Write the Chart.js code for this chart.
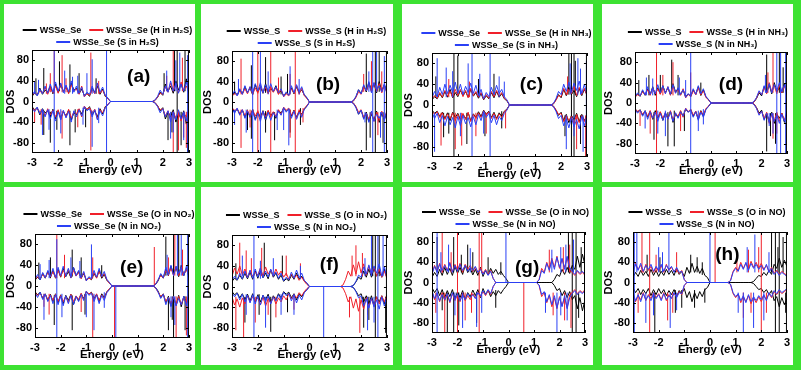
<!DOCTYPE html>
<html>
<head>
<meta charset="utf-8">
<script src="https://cdn.jsdelivr.net/npm/chart.js@4.4.0/dist/chart.umd.min.js"></script>
<style>
  html, body { margin: 0; padding: 0; background: #fff; }
  #wrap { position: relative; width: 801px; height: 370px; background: #3de232; overflow: hidden; }
  .panel { position: absolute; background: #fff; }
  .panel canvas { position: absolute; left: 0; top: 0; }
</style>
</head>
<body>
<div id="wrap"></div>
<script>
// energy grid (eV) shared by every band curve
const energy = [-3.0,-2.9,-2.8,-2.7,-2.6,-2.5,-2.4,-2.3,-2.2,-2.1,-2.0,-1.9,-1.8,-1.7,-1.6,-1.5,-1.4,-1.3,-1.2,-1.1,
  -1.0,-0.9,-0.8,-0.7,-0.6,-0.5,-0.4,-0.3,-0.2,-0.1,0,0.1,0.2,0.3,0.4,0.5,0.6,0.7,0.8,0.9,
  1.0,1.1,1.2,1.3,1.4,1.5,1.6,1.7,1.8,1.9,2.0,2.1,2.2,2.3,2.4,2.5,2.6,2.7,2.8,2.9,3.0];
const xTicks = [-3, -2, -1, 0, 1, 2, 3];
const yTicks = [-80, -40, 0, 40, 80];

// band DOS (spin up, spin down is its mirror), one value per energy point
// K = pristine, R = first adsorbate atom, B = second adsorbate atom
const aK = [10,16,12,26,14,22,18,30,15,34, 18,32,20,28,17,36,22,26,15,24, 12,16,10,26,18,30,14,24,10,6, 0,0,0,0,0,0,0,0,0,0, 0,0,0,0,0,0,0,2,8,18, 12,34,20,30,16,40,22,34,18,44, 20];
const aR = [11,18,13,20,16,28,14,26,17,30, 16,34,19,30,15,32,20,24,14,30, 9,15,12,22,15,34,16,22,12,5, 0,0,0,0,0,0,0,0,0,0, 0,0,0,0,0,0,0,2,9,16, 14,28,18,36,20,32,17,38,22,30, 18];
const aB = [12,20,11,24,15,30,16,34,18,38, 20,36,17,32,19,40,18,30,16,28, 10,18,14,30,16,36,18,28,12,7, 0,0,0,0,0,0,0,0,0,0, 0,0,0,0,0,0,0,3,10,22, 14,30,18,40,20,36,16,34,20,38, 15];
const bK = [12,20,14,24,16,30,18,28,14,34, 20,30,17,36,18,26,20,32,16,22, 12,18,14,28,16,30,18,24,14,8, 0,0,0,0,0,0,0,0,0,0, 0,0,0,0,0,0,0,2,10,24, 16,32,20,38,24,36,18,40,22,34, 20];
const bR = [11,17,13,22,15,26,16,30,15,28, 17,33,18,29,16,30,19,28,15,25, 10,16,12,26,17,32,15,27,12,7, 0,0,0,0,0,0,0,0,0,0, 0,0,0,0,0,0,0,2,9,20, 15,30,22,34,20,38,20,36,18,32, 18];
const bB = [13,22,12,26,15,32,18,30,17,36, 22,38,18,34,20,36,21,30,18,26, 11,20,13,32,18,34,20,30,14,9, 0,0,0,0,0,0,0,0,0,0, 0,0,0,0,0,0,0,3,11,24, 16,34,22,40,18,38,24,32,20,36, 16];
const cK = [10,16,12,22,14,26,15,30,14,24, 16,28,18,26,15,30,17,24,13,22, 10,18,12,24,14,26,15,22,12,8, 0,0,0,0,0,0,0,0,0,0, 0,0,0,0,0,0,0,2,10,20, 14,30,18,34,20,28,16,32,18,30, 20];
const cR = [12,18,13,24,15,28,17,26,15,30, 18,30,16,28,14,32,18,26,15,24, 11,20,13,26,16,28,17,24,13,9, 0,0,0,0,0,0,0,0,0,0, 0,0,0,0,0,0,0,2,9,18, 16,32,20,30,22,36,18,34,20,32, 18];
const cB = [14,26,16,34,20,40,22,38,24,44, 22,40,20,36,24,42,22,38,18,30, 12,24,16,34,20,38,22,30,16,10, 0,0,0,0,0,0,0,0,0,0, 0,0,0,0,0,0,0,3,12,26, 20,40,26,44,24,42,28,46,22,40, 20];
const dK = [11,18,13,24,15,28,16,32,15,30, 18,34,20,30,16,38,22,28,16,26, 12,18,13,26,17,32,15,26,12,7, 0,0,0,0,0,0,0,0,0,0, 0,0,0,0,0,0,0,2,9,20, 14,32,20,36,18,40,22,30,20,38, 18];
const dR = [12,16,14,22,16,26,15,30,18,28, 17,30,19,32,15,34,20,26,15,28, 10,17,12,24,16,30,16,24,11,6, 0,0,0,0,0,0,0,0,0,0, 0,0,0,0,0,0,0,2,10,22, 16,30,18,40,22,34,18,36,20,34, 16];
const dB = [12,20,14,26,16,32,17,30,18,36, 20,34,18,32,17,36,19,30,17,26, 11,18,14,28,17,34,18,28,13,7, 0,0,0,0,0,0,0,0,0,0, 0,0,0,0,0,0,0,3,11,24, 16,34,20,38,20,36,24,40,22,36, 18];
const eK = [11,17,12,24,15,28,16,30,15,32, 17,34,18,28,16,36,20,28,15,24, 11,16,12,24,16,30,15,22,11,6, 0,0,0,0,0,0,0,0,0,0, 0,0,0,0,0,0,0,3,10,22, 15,32,20,38,22,36,18,40,20,34, 18];
const eR = [12,18,14,22,16,26,17,28,16,30, 18,30,20,32,16,30,19,26,14,26, 10,15,13,26,15,28,17,24,12,5, 0,0,0,0,0,0,0,0,0,0, 0,0,0,0,0,0,0,4,12,20, 16,30,22,34,20,38,20,36,22,32, 18];
const eB = [13,22,12,26,16,30,18,34,17,36, 20,38,19,34,18,36,20,30,16,28, 10,18,14,30,17,34,18,28,13,7, 0,0,0,0,0,0,0,0,0,0, 0,0,0,0,0,0,0,3,12,24, 16,36,22,40,20,38,24,36,20,38, 16];
const fK = [10,16,12,22,14,26,15,28,14,30, 16,30,17,26,15,32,18,26,14,22, 10,15,11,22,14,26,14,20,11,6, 0,0,0,0,0,0,0,0,0,0, 0,0,0,0,0,0,0,2,9,18, 14,30,18,34,18,36,20,30,18,34, 16];
const fR = [20,36,24,40,22,34,18,30,20,28, 22,36,20,38,24,32,20,34,22,30, 18,26,14,24,16,22,12,18,10,4, 0,0,0,0,0,0,0,0,0,0, 0,0,0,3,14,30,20,42,24,48, 26,44,22,40,24,38,20,34,18,30, 16];
const fB = [12,20,13,26,15,30,17,32,16,34, 18,36,17,30,18,34,20,28,16,26, 11,18,13,28,16,32,17,26,12,7, 0,0,0,0,0,0,0,0,0,0, 0,0,0,0,0,0,0,2,10,22, 18,38,24,42,22,40,26,44,20,38, 18];
const gK = [10,20,12,26,14,30,16,28,14,32, 18,30,16,34,20,28,15,26,14,30, 12,24,15,28,18,26,16,22,14,8, 0,0,0,0,0,0,0,0,0,0, 0,0,0,0,0,0,0,0,6,16, 12,26,16,30,18,34,26,52,30,56, 34];
const gR = [18,34,22,38,20,36,24,40,22,36, 24,38,20,36,26,34,22,30,20,28, 18,26,16,24,8,0,0,0,0,0, 0,0,0,0,0,0,0,0,0,0, 0,0,6,28,20,40,26,48,30,52, 28,46,30,50,24,20,14,22,16,20, 14];
const gB = [16,32,20,36,24,34,22,38,20,34, 22,36,24,34,22,30,24,32,20,26, 16,24,14,22,8,0,0,0,0,0, 0,0,0,0,0,0,0,0,0,0, 0,0,5,24,18,38,24,44,26,50, 30,48,26,52,30,22,16,24,18,22, 16];
const hK = [10,20,12,24,14,22,12,26,14,24, 12,22,14,26,16,24,14,28,16,22, 12,30,18,38,20,32,18,28,14,10, 0,0,0,0,0,0,0,0,0,0, 0,0,0,0,0,0,0,2,8,14, 12,20,14,24,16,36,28,48,30,44, 32];
const hR = [22,38,26,34,20,36,24,32,20,30, 22,34,20,36,24,30,22,28,18,24, 6,0,0,0,0,0,0,0,0,0, 0,0,0,0,0,0,0,0,4,22, 30,24,40,28,38,26,42,30,40,28, 38,26,34,22,30,18,24,16,22,18, 14];
const hB = [20,36,24,38,22,34,26,36,22,32, 24,36,22,34,26,32,20,30,20,22, 5,0,0,0,0,0,0,0,0,0, 0,0,0,0,0,0,0,0,3,20, 28,22,36,26,40,24,38,28,36,26, 34,24,36,20,28,16,22,14,20,16, 12];

// sharp peaks: [energy, from DOS, to DOS]
const aKs = [[-2.85,15,45],[-2.55,-65,-20],[-2.55,20,65],[-2.3,-80,-20],[-2.05,-55,-18],[-1.95,20,78],[-1.55,-85,-18],[-1.55,18,72],[-1.35,-60,-15],[-1.2,18,55],[-0.95,-50,-15],[-0.55,15,45],
  [2.05,20,55],[2.2,-75,-20],[2.35,-60,-20],[2.45,20,100],[2.55,-100,100],[2.7,-85,-20],[2.85,20,100],[2.95,-100,-20]];
const aRs = [[-2.9,-40,-15],[-2.65,-45,-15],[-2.45,15,35],[-2.3,18,55],[-2.15,15,100],[-1.85,18,90],[-1.85,-72,-18],[-1.7,18,45],[-1.25,-50,-15],[-0.75,-95,-15],[-0.75,15,95],[-0.45,15,40],
  [2.15,20,50],[2.4,-100,-20],[2.4,20,100],[2.6,-95,-20],[2.75,20,85],[2.8,-70,-20],[2.9,-90,-20]];
const aBs = [[-2.9,15,38],[-2.75,14,42],[-2.6,-65,-14],[-2.35,-55,-15],[-2.15,-100,100],[-1.9,-62,-15],[-1.75,15,60],[-1.45,15,48],[-1.25,15,50],[-1.05,-45,-12],[-0.9,15,55],[-0.7,15,82],[-0.7,-88,-18],[-0.45,-42,-12],[-0.15,-100,100],
  [2.15,20,60],[2.3,-72,-20],[2.4,-60,-20],[2.5,20,80],[2.65,20,95],[2.8,-75,-20],[2.95,-100,90]];
const bKs = [[-2.9,15,40],[-2.4,-55,-15],[-2.25,20,72],[-2.25,-72,-20],[-1.7,18,88],[-1.7,-60,-18],[-1.35,-75,-20],[-1.1,15,50],[-0.85,15,55],[-0.75,-60,-15],[-0.35,-45,-12],
  [2.2,20,95],[2.2,-95,-20],[2.35,-70,-20],[2.55,-100,100],[2.7,20,100],[2.85,-80,-20]];
const bRs = [[-2.65,15,85],[-2.65,-90,-15],[-2.3,-50,-15],[-2.0,-100,100],[-1.5,-100,100],[-1.2,15,48],[-0.75,-70,-15],[-0.75,15,55],[-0.55,-100,100],[-0.25,-40,-12],
  [2.1,20,55],[2.4,20,80],[2.65,-65,-20],[2.8,20,60]];
const bBs = [[-2.9,-45,-15],[-2.75,15,45],[-2.45,-60,-15],[-2.2,-100,100],[-1.9,-100,100],[-1.6,15,60],[-1.25,-55,-15],[-1.0,-55,-15],[-0.8,-85,-15],[-0.75,15,70],[-0.4,15,45],
  [2.15,-40,-20],[2.3,20,60],[2.45,-100,100],[2.6,20,100],[2.75,-70,-20],[2.9,-100,90]];
const cKs = [[-2.85,15,55],[-2.55,-62,-15],[-2.35,-55,-15],[-2.15,-100,100],[-2.0,20,95],[-1.65,-75,-15],[-1.2,15,50],[-0.95,-60,-15],[-0.6,15,60],[-0.3,-45,-12],
  [2.15,-60,-20],[2.3,20,100],[2.4,-100,100],[2.5,-100,100],[2.55,20,85],[2.75,-75,-20]];
const cRs = [[-2.65,-78,-15],[-2.35,15,50],[-2.1,-85,-15],[-1.85,-78,-15],[-1.55,15,45],[-1.3,-60,-15],[-0.9,-55,-15],[-0.15,-45,-10],
  [2.25,20,55],[2.6,-85,-20],[2.95,-100,-20]];
const cBs = [[-2.9,-90,-15],[-2.8,15,90],[-2.45,15,72],[-2.2,15,65],[-1.9,-60,-15],[-1.6,20,80],[-1.45,-100,100],[-1.15,15,60],[-1.0,-55,-15],[-0.75,-100,100],[-0.4,15,55],[-0.2,15,45],
  [2.2,-85,-20],[2.35,20,80],[2.5,-60,-20],[2.65,20,90],[2.75,20,70],[2.85,-90,-20],[2.98,-85,85]];
const dKs = [[-2.85,15,45],[-2.45,15,55],[-2.25,-72,-18],[-2.0,20,55],[-1.7,-85,-18],[-1.55,18,85],[-1.45,-85,-15],[-1.3,15,55],[-1.05,-55,-15],[-0.4,15,40],
  [2.2,20,95],[2.2,-95,-20],[2.35,-65,-20],[2.55,-80,-20],[2.7,20,100],[2.85,20,70]];
const dRs = [[-2.8,-45,-15],[-2.4,-60,-15],[-2.15,-100,100],[-1.9,15,55],[-1.5,15,80],[-1.2,-55,-15],[-0.8,15,60],
  [2.25,20,60],[2.45,20,100],[2.45,-70,-20],[2.6,-60,-20]];
const dBs = [[-2.6,-50,-15],[-2.55,15,50],[-2.3,15,48],[-2.1,-60,-15],[-1.8,-65,-15],[-1.25,15,50],[-1.0,15,45],[-0.8,-100,100],[-0.5,-55,-15],[-0.3,-42,-12],
  [2.15,20,55],[2.3,-45,-20],[2.45,-60,-20],[2.6,-100,100],[2.75,-100,100],[2.95,-100,100]];
const eKs = [[-2.85,15,45],[-2.4,15,55],[-2.25,-75,-18],[-1.55,-85,-18],[-1.55,18,70],[-1.2,15,55],[-1.05,-55,-15],[-0.4,15,40],
  [2.1,20,95],[2.2,-85,-20],[2.35,-65,-20],[2.4,-100,100],[2.6,20,100],[2.85,-85,-20]];
const eRs = [[-2.65,-40,-15],[-2.45,-55,-15],[-2.15,15,100],[-1.85,15,60],[-1.2,-50,-15],[-0.75,15,55],[-0.75,-100,-15],[0.1,-100,0],
  [1.65,0,75],[2.2,20,55],[2.45,20,100],[2.5,-100,-20],[2.75,20,70],[2.9,-95,-20]];
const eBs = [[-2.8,15,42],[-2.65,-65,-15],[-2.45,15,50],[-2.15,-100,90],[-1.95,-60,-15],[-1.6,15,55],[-1.25,15,48],[-1.0,-60,-15],[-0.8,15,80],[-0.7,-85,-15],[-0.3,-42,-12],[0.15,-100,0],
  [2.15,20,60],[2.3,-60,-20],[2.45,-75,-20],[2.55,20,100],[2.7,20,100],[2.95,-100,100]];
const fKs = [[-2.85,15,45],[-2.5,-70,-20],[-1.95,-55,-15],[-1.75,20,85],[-1.5,-88,-20],[-1.05,20,60],[-0.85,-50,-15],
  [2.1,-80,-20],[2.3,-65,-20],[2.45,20,100],[2.55,-100,100],[2.7,20,100],[2.95,-90,-20]];
const fRs = [[-2.85,-85,-20],[-2.7,20,85],[-2.55,-100,-20],[-2.45,20,70],[-2.25,20,55],[-2.1,-70,-20],[-1.85,20,75],[-1.6,-55,-20],[-1.3,-60,-20],[-0.9,20,60],[-0.6,-45,-15],[-0.35,15,45],
  [1.55,-60,-20],[1.65,20,60],[1.8,20,80],[1.95,-90,-20],[2.05,20,65],[2.25,-55,-20]];
const fBs = [[-2.6,20,60],[-2.45,-55,-15],[-2.15,-100,100],[-1.9,15,50],[-1.7,-80,-20],[-1.4,20,55],[-1.1,-55,-15],[-0.6,-55,-15],[-0.35,15,40],[0.55,-100,0],
  [2.15,20,55],[2.25,-85,-20],[2.4,20,100],[2.5,-70,-20],[2.65,-100,100],[2.85,20,100]];
const gKs = [[-2.8,20,90],[-2.6,-55,-20],[-2.4,-100,-20],[-2.15,-100,-20],[-2.15,20,90],[-1.95,-85,-20],[-1.85,20,55],[-1.6,20,75],[-1.4,20,60],[-1.25,-80,-20],[-0.8,20,50],[-0.5,-50,-15],[-0.3,15,40],
  [2.35,20,100],[2.5,-100,100],[2.65,-100,100],[2.75,-70,-20],[2.85,20,70]];
const gRs = [[-2.85,-60,-20],[-2.6,20,100],[-2.5,-100,-20],[-2.25,20,60],[-2.0,-100,100],[-1.7,-75,-20],[-1.45,-60,-20],[-1.15,-100,100],[-1.05,20,100],[0.6,-100,0],
  [1.6,20,65],[1.75,-65,-20],[2.15,20,70],[2.2,-75,-20],[2.4,20,75],[2.45,-90,-20]];
const gBs = [[-2.8,-100,100],[-2.65,20,60],[-2.35,20,75],[-2.1,-65,-20],[-1.8,-90,-20],[-1.5,20,68],[-1.25,-88,-20],[-1.05,-60,-20],[-0.1,0,100],
  [1.45,-60,-20],[1.7,20,65],[1.9,-100,-20],[2.05,20,70],[2.05,-65,-20],[2.25,20,75],[2.3,-75,-20],[2.55,20,85]];
const hKs = [[-2.45,20,55],[-2.15,-100,-20],[-1.95,20,50],[-1.35,-60,-15],[-1.1,-50,-15],[-0.75,20,55],[-0.6,-50,-15],[-0.5,20,50],[-0.3,15,40],[-0.2,-40,-12],
  [2.4,20,100],[2.55,-100,100],[2.65,20,70],[2.7,-100,100],[2.85,20,90],[2.95,-60,-20]];
const hRs = [[-2.8,-60,-20],[-2.65,20,100],[-2.35,-100,100],[-2.1,20,55],[-1.65,-75,-20],[-1.45,-60,-20],[-1.3,20,60],[0.2,0,100],
  [1.05,20,55],[1.3,-70,-20],[1.5,20,65],[1.6,-60,-20],[1.9,20,70],[2.0,-100,100],[2.2,-60,-20]];
const hBs = [[-2.95,-100,100],[-2.85,20,100],[-2.5,-80,-20],[-2.2,-65,-20],[-2.0,20,70],[-1.85,20,60],[-1.6,20,100],[-1.55,-90,-20],[-1.3,-55,-20],[0.0,0,100],
  [1.1,-60,-20],[1.3,-100,-20],[1.45,20,70],[1.7,-90,-20],[1.75,20,95],[2.1,-75,-20],[2.3,20,60]];

// legend names
const namesA = ['WSSe_Se', 'WSSe_Se (H in H\u2082S)', 'WSSe_Se (S in H\u2082S)'];
const namesB = ['WSSe_S', 'WSSe_S (H in H\u2082S)', 'WSSe_S (S in H\u2082S)'];
const namesC = ['WSSe_Se', 'WSSe_Se (H in NH\u2083)', 'WSSe_Se (S in NH\u2083)'];
const namesD = ['WSSe_S', 'WSSe_S (H in NH\u2083)', 'WSSe_S (N in NH\u2083)'];
const namesE = ['WSSe_Se', 'WSSe_Se (O in NO\u2082)', 'WSSe_Se (N in NO\u2082)'];
const namesF = ['WSSe_S', 'WSSe_S (O in NO\u2082)', 'WSSe_S (N in NO\u2082)'];
const namesG = ['WSSe_Se', 'WSSe_Se (O in NO)', 'WSSe_Se (N in NO)'];
const namesH = ['WSSe_S', 'WSSe_S (O in NO)', 'WSSe_S (N in NO)'];

const panels = [
  { tag: '(a)', names: namesA, bands: [aK, aR, aB], spikes: [aKs, aRs, aBs] },
  { tag: '(b)', names: namesB, bands: [bK, bR, bB], spikes: [bKs, bRs, bBs] },
  { tag: '(c)', names: namesC, bands: [cK, cR, cB], spikes: [cKs, cRs, cBs] },
  { tag: '(d)', names: namesD, bands: [dK, dR, dB], spikes: [dKs, dRs, dBs] },
  { tag: '(e)', names: namesE, bands: [eK, eR, eB], spikes: [eKs, eRs, eBs] },
  { tag: '(f)', names: namesF, bands: [fK, fR, fB], spikes: [fKs, fRs, fBs] },
  { tag: '(g)', names: namesG, bands: [gK, gR, gB], spikes: [gKs, gRs, gBs] },
  { tag: '(h)', names: namesH, bands: [hK, hR, hB], spikes: [hKs, hRs, hBs] }
];

// layout: panel rect in page [left, top, w, h], plot rect in panel [l, t, r, b], tag position in data units
const panelBox = [[4,4,191,178],[201,4,192,178],[402,4,191,178],[602,4,191,178],
                  [4,187,191,178],[201,187,192,178],[402,187,191,178],[602,187,191,178]];
const plotBox = [[28,46,187,149],[31,47,189,149],[30,49,186,153],[33,48,188,150],
                 [31,47,187,151],[31,48,187,151],[30,45,183,146],[31,45,186,146]];
const tagAt = [[1.08,48],[0.72,33],[0.85,38],[0.79,35],[0.77,36],[0.77,42],[0.73,30],[0.68,54]];

const colors = ['#000000', '#f0202a', '#2a40f5'];
const FONT = 'Arial, "Liberation Sans", sans-serif';

function bandPoints(vals, sign) {
  return energy.map((x, i) => ({ x: x, y: sign * vals[i] }));
}

function spikePoints(list) {
  const pts = [];
  list.forEach(([x, lo, hi]) => {
    pts.push({ x: x, y: lo }, { x: x, y: hi }, { x: x, y: null });
  });
  return pts;
}

// box, inward ticks, panel letter and legend
const decor = {
  id: 'decor',
  afterDatasetsDraw(chart, args, opts) {
    const { ctx, chartArea: a, scales } = chart;
    ctx.save();
    ctx.strokeStyle = '#000';
    ctx.lineWidth = 1;
    ctx.strokeRect(a.left + 0.5, a.top + 0.5, a.right - a.left - 1, a.bottom - a.top - 1);
    ctx.beginPath();
    xTicks.forEach(v => {
      const px = Math.round(scales.x.getPixelForValue(v)) + 0.5;
      ctx.moveTo(px, a.bottom); ctx.lineTo(px, a.bottom - 3);
      ctx.moveTo(px, a.top); ctx.lineTo(px, a.top + 3);
    });
    yTicks.forEach(v => {
      const py = Math.round(scales.y.getPixelForValue(v)) + 0.5;
      ctx.moveTo(a.left, py); ctx.lineTo(a.left + 3, py);
      ctx.moveTo(a.right, py); ctx.lineTo(a.right - 3, py);
    });
    ctx.stroke();

    ctx.fillStyle = '#000';
    ctx.font = 'bold 19px ' + FONT;
    ctx.textAlign = 'center';
    ctx.textBaseline = 'middle';
    ctx.fillText(opts.tag, scales.x.getPixelForValue(opts.tagAt[0]), scales.y.getPixelForValue(opts.tagAt[1]));

    // legend: two entries on the first row, one on the second
    ctx.font = 'bold 9px ' + FONT;
    ctx.textAlign = 'left';
    const cx = (a.left + a.right) / 2 - 3;
    const rows = [[0, 1], [2]];
    rows.forEach((row, r) => {
      const y = a.top - (r === 0 ? 20 : 8);
      const widths = row.map(i => 14 + 3 + ctx.measureText(opts.names[i]).width);
      let x = cx - (widths.reduce((s, w) => s + w, 0) + 8 * (row.length - 1)) / 2;
      row.forEach((i, k) => {
        ctx.strokeStyle = opts.legendColors[i];
        ctx.lineWidth = 2;
        ctx.beginPath();
        ctx.moveTo(x, y); ctx.lineTo(x + 14, y);
        ctx.stroke();
        ctx.fillText(opts.names[i], x + 17, y + 0.5);
        x += widths[k] + 8;
      });
    });
    ctx.restore();
  }
};

const wrap = document.getElementById('wrap');

panels.forEach((p, n) => {
  const [px, py, pw, ph] = panelBox[n];
  const [l, t, r, b] = plotBox[n];
  const div = document.createElement('div');
  div.className = 'panel';
  div.style.left = px + 'px';
  div.style.top = py + 'px';
  div.style.width = pw + 'px';
  div.style.height = ph + 'px';
  const canvas = document.createElement('canvas');
  canvas.width = pw;
  canvas.height = ph;
  div.appendChild(canvas);
  wrap.appendChild(div);

  const datasets = [];
  [0, 1, 2].forEach(s => {
    const common = { borderColor: colors[s], borderWidth: 1, pointRadius: 0, order: 3 - s, spanGaps: false };
    datasets.push(Object.assign({ data: bandPoints(p.bands[s], 1) }, common));
    datasets.push(Object.assign({ data: bandPoints(p.bands[s], -1) }, common));
    datasets.push(Object.assign({ data: spikePoints(p.spikes[s]) }, common));
  });

  const legendColors = n === 2 ? [colors[2], colors[1], colors[2]] : colors;
  const xh = 24;

  new Chart(canvas, {
    type: 'line',
    data: { datasets: datasets },
    options: {
      responsive: false,
      animation: false,
      events: [],
      layout: { padding: { left: 0, top: t, right: pw - r, bottom: ph - b - xh } },
      elements: { line: { tension: 0 } },
      plugins: {
        legend: { display: false },
        tooltip: { enabled: false },
        decor: { tag: p.tag, tagAt: tagAt[n], names: p.names, legendColors: legendColors }
      },
      scales: {
        x: {
          type: 'linear', min: -3, max: 3,
          afterBuildTicks: s => { s.ticks = xTicks.map(v => ({ value: v })); },
          afterFit: s => { s.height = xh; },
          grid: { display: false, drawTicks: false },
          border: { display: false },
          ticks: { color: '#000', padding: 3, maxRotation: 0, font: { family: FONT, size: 11, weight: 'bold' } },
          title: { display: true, text: 'Energy (eV)', color: '#000', padding: 0, font: { family: FONT, size: 11.5, weight: 'bold' } }
        },
        y: {
          type: 'linear', min: -100, max: 100,
          afterBuildTicks: s => { s.ticks = yTicks.map(v => ({ value: v })); },
          afterFit: s => { s.width = l; },
          grid: { display: false, drawTicks: false },
          border: { display: false },
          ticks: { color: '#000', padding: 3, font: { family: FONT, size: 11, weight: 'bold' } },
          title: { display: true, text: 'DOS', color: '#000', padding: 0, font: { family: FONT, size: 11, weight: 'bold' } }
        }
      }
    },
    plugins: [decor]
  });
});
</script>
</body>
</html>
